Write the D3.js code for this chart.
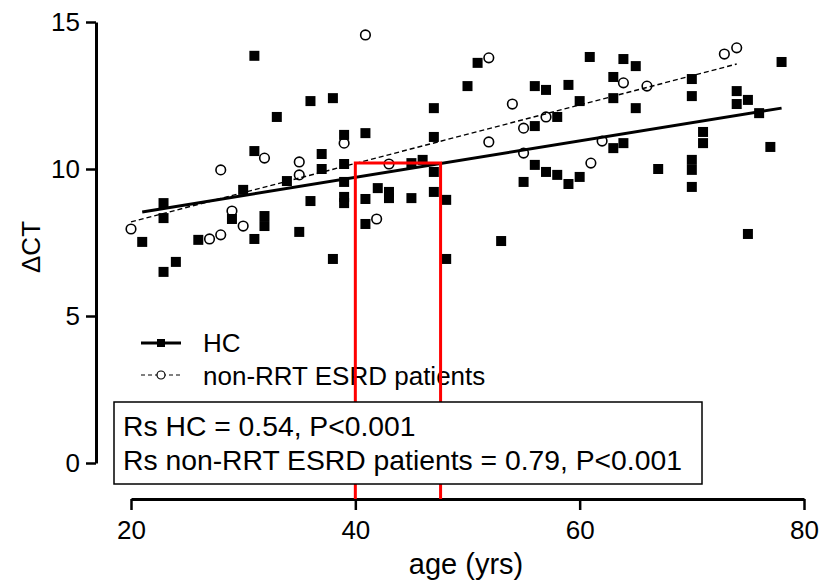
<!DOCTYPE html>
<html>
<head>
<meta charset="utf-8">
<script src="https://cdn.jsdelivr.net/npm/d3@7"></script>
<style>
body{margin:0;background:#fff}
text{font-family:"Liberation Sans",Arial,sans-serif;fill:#000}
</style>
</head>
<body>
<div></div>
<script>
// HC (healthy controls)
var hcAge = [31,33,31,30,33.9,22.9,22.9,21,26,29,31.9,31,24,22.9,31.9,36,38,39,40.9,37,37,39,39,39,39,36,35,38,40.9,42,43,43,45,45,46,47,47,47,47,48.1,40.9,48.1,50.9,50,56,57,59,60.9,63,63.9,63,60,58,56,56,57,58,59,60,55,63,63.9,53,65,65,70,70,67,70,70,70,71,71,74,74,75,76,78,77,75]
var hcDct = [13.85,11.77,10.61,9.29,9.59,8.84,8.33,7.52,7.59,8.3,8.06,7.62,6.84,6.5,8.4,12.31,12.41,11.16,11.22,10.51,10,10.17,9.56,9.05,8.84,8.91,7.86,6.94,8.98,9.35,9.22,9.01,9.01,10.2,10.31,12.07,11.09,9.9,9.22,8.95,8.13,6.94,13.61,12.82,12.82,12.69,12.86,13.81,13.13,13.74,12.41,12.31,11.77,11.46,10.14,9.9,9.8,9.49,9.73,9.56,10.71,10.88,7.55,13.5,12.07,13.06,12.48,10,10.31,9.97,9.39,11.26,10.88,12.65,12.21,12.35,11.9,13.64,10.75,7.79]
// non-RRT ESRD patients
var esrdAge = [20,28,31.9,29,30,27,28,35,35,39,40.9,41.9,43,51.9,54,55,57,51.9,55,61,62,63.9,66,72.9,74]
var esrdDct = [7.96,9.97,10.37,8.57,8.06,7.62,7.76,10.24,9.8,10.88,14.56,8.3,10.17,13.78,12.21,11.39,11.77,10.92,10.54,10.2,10.95,12.93,12.82,13.91,14.12]
// fitted lines
var hcFitAge = [21,78], hcFitDct = [8.54,12.07]
var esrdFitAge = [20,74], esrdFitDct = [8.2,13.57]
// red highlight box
var boxAge = [40,47.6], boxDct = 10.2

var xTicks = [20,40,60,80]
var yTicks = [0,5,10,15]
var legendNames = ["HC","non-RRT ESRD patients"]
var statLines = ["Rs HC = 0.54, P<0.001","Rs non-RRT ESRD patients = 0.79, P<0.001"]

var svg = d3.select("div").append("svg").attr("width",823).attr("height",588)

var x = d3.scaleLinear().domain([20,80]).range([131,804])
var y = d3.scaleLinear().domain([0,15]).range([463,22])

var yAx = svg.append("g").attr("transform","translate(96,0)")
  .call(d3.axisLeft(y).tickValues(yTicks).tickSize(10).tickSizeOuter(0).tickPadding(6))
var xAx = svg.append("g").attr("transform","translate(0,499)")
  .call(d3.axisBottom(x).tickValues(xTicks).tickSize(11).tickSizeOuter(0).tickPadding(11))
svg.selectAll(".domain").attr("stroke-width",3)
svg.selectAll(".tick line").attr("stroke-width",2.5)
svg.selectAll(".tick text").attr("font-size",26).attr("font-family","Liberation Sans, Arial")

svg.append("text").attr("x",466).attr("y",574).attr("text-anchor","middle").attr("font-size",29).text("age (yrs)")
svg.append("text").attr("transform","translate(40,247) rotate(-90)").attr("text-anchor","middle").attr("font-size",26).text("\u0394CT")

var line = d3.line().x(function(d){return x(d[0])}).y(function(d){return y(d[1])})

// points
var hc = d3.zip(hcAge,hcDct), esrd = d3.zip(esrdAge,esrdDct)
svg.append("g").selectAll("circle").data(esrd).enter().append("circle")
  .attr("cx",function(d){return x(d[0])}).attr("cy",function(d){return y(d[1])})
  .attr("r",4.8).attr("fill","#fff").attr("stroke","#000").attr("stroke-width",1.6)
svg.append("g").selectAll("rect").data(hc).enter().append("rect")
  .attr("x",function(d){return x(d[0])-5}).attr("y",function(d){return y(d[1])-5})
  .attr("width",10).attr("height",10).attr("fill","#000")

svg.append("path").datum(d3.zip(hcFitAge,hcFitDct)).attr("d",line)
  .attr("fill","none").attr("stroke","#000").attr("stroke-width",3)
svg.append("path").datum(d3.zip(esrdFitAge,esrdFitDct)).attr("d",line)
  .attr("fill","none").attr("stroke","#000").attr("stroke-width",1.4).attr("stroke-dasharray","5,3")

// legend
var lg = svg.append("g")
lg.append("line").attr("x1",141).attr("x2",181).attr("y1",343).attr("y2",343).attr("stroke","#000").attr("stroke-width",3)
lg.append("rect").attr("x",157).attr("y",339).attr("width",8).attr("height",8)
lg.append("line").attr("x1",141).attr("x2",181).attr("y1",375).attr("y2",375).attr("stroke","#000").attr("stroke-width",1).attr("stroke-dasharray","4,3")
lg.append("circle").attr("cx",161).attr("cy",375).attr("r",4).attr("fill","#fff").attr("stroke","#000").attr("stroke-width",1.2)
lg.selectAll("text").data(legendNames).enter().append("text")
  .attr("x",203).attr("y",function(d,i){return 352+i*33}).attr("font-size",26).text(function(d){return d})

// red box
svg.append("path")
  .attr("d","M"+x(boxAge[0])+","+y(0-36/29.4)+"V"+y(boxDct)+"H"+x(boxAge[1])+"V"+y(0-36/29.4))
  .attr("fill","none").attr("stroke","#ff0000").attr("stroke-width",3)

// stats box
svg.append("rect").attr("x",114).attr("y",402).attr("width",588).attr("height",82)
  .attr("fill","#fff").attr("stroke","#000").attr("stroke-width",1.5)
svg.append("g").selectAll("text").data(statLines).enter().append("text")
  .attr("x",123).attr("y",function(d,i){return 436+i*34}).attr("font-size",28.3).text(function(d){return d})
</script>
</body>
</html>
